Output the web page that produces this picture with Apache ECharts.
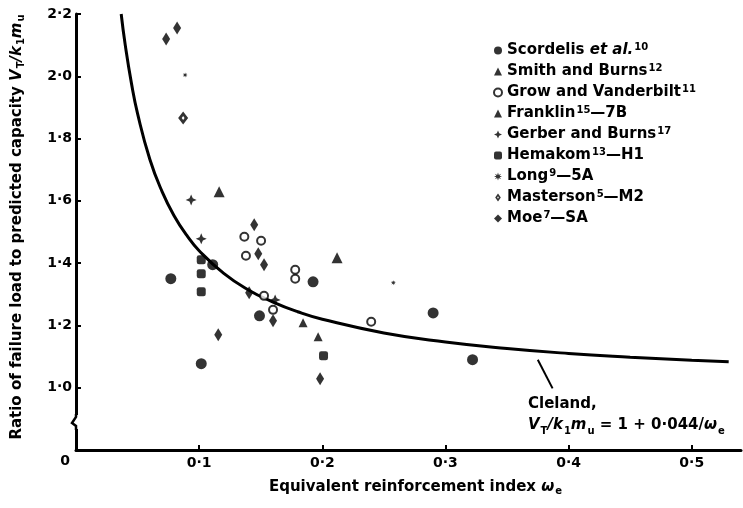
<!DOCTYPE html>
<html>
<head>
<meta charset="utf-8">
<script src="https://cdn.jsdelivr.net/npm/echarts@6/dist/echarts.min.js"></script>
<style>
  html, body { margin: 0; padding: 0; background: #fff; }
  #chart { width: 743px; height: 508px; }
</style>
</head>
<body>
<div id="chart"></div>
<script>
// 数据
var scordelis = [[0.077, 1.35], [0.111, 1.395], [0.1017, 1.077], [0.149, 1.231], [0.1925, 1.34], [0.29, 1.24], [0.322, 1.09]];
var smithBurns = [[0.1844, 1.209], [0.1966, 1.164]];
var growVanderbilt = [[0.1367, 1.485], [0.1503, 1.472], [0.138, 1.424], [0.1527, 1.295], [0.16, 1.25], [0.178, 1.379], [0.178, 1.35], [0.2397, 1.212]];
var franklin = [[0.1162, 1.629], [0.212, 1.417]];
var gerberBurns = [[0.0935, 1.603], [0.1017, 1.478], [0.1617, 1.282]];
var hemakom = [[0.1017, 1.411], [0.1017, 1.366], [0.1017, 1.308], [0.201, 1.103]];
var long = [[0.0886, 2.004], [0.2577, 1.337]];
var masterson = [[0.087, 1.866]];
var moe = [[0.0732, 2.12], [0.0821, 2.155], [0.1447, 1.523], [0.148, 1.43], [0.1527, 1.395], [0.1406, 1.305], [0.1155, 1.17], [0.16, 1.215], [0.1982, 1.029]];

// Cleland 曲线
var clelandX = [0.0367, 0.04, 0.045, 0.05, 0.06, 0.07, 0.08, 0.09, 0.1, 0.12, 0.14, 0.16, 0.18, 0.2, 0.25, 0.3, 0.35, 0.4, 0.45, 0.5, 0.53];
var clelandY = [2.2, 2.1, 1.978, 1.88, 1.733, 1.629, 1.55, 1.489, 1.44, 1.367, 1.314, 1.275, 1.244, 1.22, 1.176, 1.147, 1.126, 1.11, 1.098, 1.088, 1.083];

var xTicks = [0, 0.1, 0.2, 0.3, 0.4, 0.5];
var yTicks = [0.8, 1.0, 1.2, 1.4, 1.6, 1.8, 2.0, 2.2];

var FONT = '"DejaVu Sans", Verdana, sans-serif';
var fmt = function (v) { return v.toFixed(1).replace('.', '·'); };

var myChart = echarts.init(document.getElementById('chart'));

var legendNames = {
  scordelis: 'Scordelis {it|et al.}{sup|10}',
  smith: 'Smith and Burns{sup|12}',
  grow: 'Grow and Vanderbilt{sup|11}',
  franklin: 'Franklin{sup|15}—7B',
  gerber: 'Gerber and Burns{sup|17}',
  hemakom: 'Hemakom{sup|13}—H1',
  long: 'Long{sup|9}—5A',
  masterson: 'Masterson{sup|5}—M2',
  moe: 'Moe{sup|7}—SA'
};

var starPath = 'path://M0,-10L3,-3L10,0L3,3L0,10L-3,3L-10,0L-3,-3Z';
var longPath = 'path://M0,-10L2,-4L8,-7L4,-2L10,0L4,2L8,7L2,4L0,10L-2,4L-8,7L-4,2L-10,0L-4,-2L-8,-7L-2,-4Z';
var mastersonPath = 'path://M0,-10L7,0L0,10L-7,0Z M0,-3L-2,0L0,3L2,0Z';

function scatter(name, data, symbol, size, extra) {
  var s = {
    name: name,
    type: 'scatter',
    data: data,
    symbol: symbol,
    symbolSize: size,
    itemStyle: { color: '#000' },
    z: 3
  };
  if (extra) { for (var k in extra) s[k] = extra[k]; }
  return s;
}

var subRich = {
  it: { fontFamily: FONT, fontWeight: 'bold', fontStyle: 'italic', fontSize: 15, color: '#000' },
  sub: { fontFamily: FONT, fontWeight: 'bold', fontSize: 10, color: '#000', verticalAlign: 'bottom', padding: [8, 0, 0, 1] }
};

var option = {
  animation: false,
  backgroundColor: '#fff',
  textStyle: { fontFamily: FONT, fontWeight: 'bold', color: '#000' },
  grid: { left: 76, right: 2, top: 14, bottom: 58 },
  legend: {
    orient: 'vertical',
    left: 488,
    top: 37,
    itemWidth: 8,
    itemHeight: 8,
    itemGap: 4,
    data: ['scordelis', 'smith', 'grow', 'franklin', 'gerber', 'hemakom', 'long', 'masterson', 'moe'],
    formatter: function (n) { return legendNames[n]; },
    textStyle: {
      fontFamily: FONT, fontWeight: 'bold', fontSize: 15, color: '#000', lineHeight: 17,
      rich: {
        it: { fontFamily: FONT, fontWeight: 'bold', fontStyle: 'italic', fontSize: 15, color: '#000', lineHeight: 17 },
        sup: { fontFamily: FONT, fontWeight: 'bold', fontSize: 10, color: '#000', verticalAlign: 'top', padding: [0, 0, 8, 1] }
      }
    }
  },
  xAxis: {
    type: 'value',
    min: 0,
    max: 0.54,
    interval: 0.1,
    splitLine: { show: false },
    axisLine: { lineStyle: { color: '#000', width: 3 } },
    axisTick: { inside: true, length: 5, lineStyle: { color: '#000', width: 2 } },
    axisLabel: {
      showMinLabel: false, showMaxLabel: false,
      fontFamily: FONT, fontWeight: 'bold', fontSize: 14, color: '#000', margin: 6,
      formatter: function (v) { return xTicks.indexOf(Math.round(v * 10) / 10) >= 0 && Math.abs(v * 10 - Math.round(v * 10)) < 1e-6 ? fmt(v) : ''; }
    },
    name: 'Equivalent reinforcement index {it|ω}{sub|e}',
    nameLocation: 'middle',
    nameGap: 28,
    nameTextStyle: {
      fontFamily: FONT, fontWeight: 'bold', fontSize: 15, color: '#000', padding: [0, 0, 0, 14],
      rich: subRich
    }
  },
  yAxis: {
    type: 'value',
    min: 0.8,
    max: 2.2,
    interval: 0.2,
    splitLine: { show: false },
    axisLine: { lineStyle: { color: '#000', width: 3 } },
    axisTick: { inside: true, length: 5, lineStyle: { color: '#000', width: 2 } },
    axisLabel: {
      fontFamily: FONT, fontWeight: 'bold', fontSize: 14, color: '#000', margin: 4,
      formatter: function (v) {
        if (Math.abs(v - yTicks[0]) < 1e-6) return '{zero|0}';
        return fmt(v);
      },
      rich: { zero: { fontFamily: FONT, fontWeight: 'bold', fontSize: 14, color: '#000', padding: [22, 2, 0, 0] } }
    },
    name: 'Ratio of failure load to predicted capacity {it|V}{sub|T}{it|/k}{sub|1}{it|m}{sub|u}',
    nameLocation: 'middle',
    nameRotate: 90,
    nameGap: 50,
    nameTextStyle: {
      fontFamily: FONT, fontWeight: 'bold', fontSize: 15, color: '#000', padding: [0, 0, 0, 10],
      rich: subRich
    }
  },
  series: [
    {
      name: 'Cleland',
      type: 'line',
      data: clelandX.map(function (x, i) { return [x, clelandY[i]]; }),
      smooth: true,
      showSymbol: false,
      lineStyle: { color: '#000', width: 3 },
      z: 2,
      markLine: {
        silent: true,
        symbol: 'none',
        label: { show: false },
        lineStyle: { color: '#000', width: 2, type: 'solid' },
        data: [[{ coord: [0.375, 1.09] }, { coord: [0.387, 0.998] }]]
      }
    },
    scatter('scordelis', scordelis, 'circle', 11),
    scatter('smith', smithBurns, 'triangle', 9),
    scatter('grow', growVanderbilt, 'emptyCircle', 8, { itemStyle: { color: '#000', borderColor: '#000', borderWidth: 2.2 } }),
    scatter('franklin', franklin, 'triangle', 11),
    scatter('gerber', gerberBurns, starPath, 11),
    scatter('hemakom', hemakom, 'roundRect', 9),
    scatter('long', long, longPath, 5),
    scatter('masterson', masterson, mastersonPath, [10, 13]),
    scatter('moe', moe, 'diamond', [8, 13])
  ],
  graphic: [
    {
      type: 'text',
      left: 528,
      top: 394,
      style: {
        text: 'Cleland,\n{it|V}{sub|T}{it|/k}{sub|1}{it|m}{sub|u} = 1 + 0·044/{it|ω}{sub|e}',
        font: 'bold 15px ' + FONT,
        fill: '#000',
        lineHeight: 21,
        rich: {
          it: { fontFamily: FONT, fontWeight: 'bold', fontStyle: 'italic', fontSize: 15, fill: '#000' },
          sub: { fontFamily: FONT, fontWeight: 'bold', fontSize: 10, fill: '#000', verticalAlign: 'bottom', padding: [8, 0, 0, 1] }
        }
      }
    }
  ]
};

myChart.setOption(option);

// 纵轴断裂符号
var ax = myChart.convertToPixel({ xAxisIndex: 0 }, 0);
var by = myChart.convertToPixel({ yAxisIndex: 0 }, 0.89);
myChart.setOption({
  graphic: [
    option.graphic[0],
    { type: 'rect', shape: { x: ax - 3, y: by - 7, width: 6, height: 14 }, style: { fill: '#fff' }, z: 10 },
    { type: 'polyline', shape: { points: [[ax, by - 8], [ax, by - 5], [ax - 4, by + 1], [ax, by + 4], [ax, by + 8]] }, style: { stroke: '#000', lineWidth: 2.5, fill: null }, z: 11 }
  ]
});
</script>
</body>
</html>
